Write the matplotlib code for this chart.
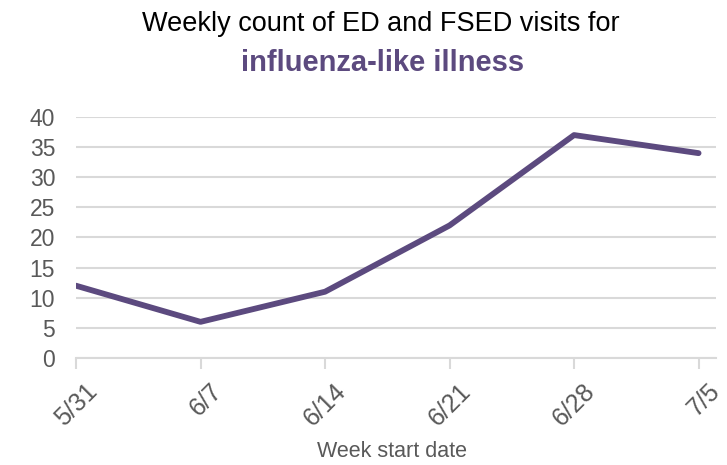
"""Weekly ED/FSED visit counts for influenza-like illness."""

import matplotlib

matplotlib.use("Agg")
import matplotlib.pyplot as plt
from matplotlib.transforms import ScaledTranslation

weeks = ["5/31", "6/7", "6/14", "6/21", "6/28", "7/5"]
visits = [12, 6, 11, 22, 37, 34]
y_ticks = [0, 5, 10, 15, 20, 25, 30, 35, 40]

purple = "#5c4a7f"
grey_text = "#595959"
grid_grey = "#d9d9d9"

plt.rcParams["font.family"] = ["Liberation Sans", "DejaVu Sans"]

fig = plt.figure(figsize=(7.27, 4.65), dpi=100)
ax = fig.add_axes([76 / 727, 1 - 358 / 465, (716 - 76) / 727, (358 - 117) / 465])

x = list(range(len(weeks)))
ax.plot(x, visits, color=purple, linewidth=4.2, solid_capstyle="round", solid_joinstyle="round", zorder=3)

ax.set_xlim(0, 5.14)
ax.set_ylim(0, 40)
ax.set_yticks(y_ticks)
ax.set_xticks(x)
ax.set_xticklabels(weeks, rotation=45, ha="right", rotation_mode="anchor")
ax.grid(axis="y", color=grid_grey, linewidth=1.5)
ax.set_axisbelow(True)

for side in ["top", "right", "left"]:
    ax.spines[side].set_visible(False)
ax.spines["bottom"].set_color(grid_grey)
ax.spines["bottom"].set_linewidth(1.5)

ax.tick_params(axis="y", length=0, pad=15, labelsize=16.5, labelcolor=grey_text)
ax.tick_params(axis="x", length=8, width=1.5, color=grid_grey, pad=7, labelsize=18, labelcolor=grey_text)

# nudge rotated date labels to the right like the original
shift = ScaledTranslation(9 / 100, 0, fig.dpi_scale_trans)
for label in ax.get_xticklabels():
    label.set_transform(label.get_transform() + shift)

fig.text(392 / 727, 1 - 457 / 465, "Week start date", ha="center", va="baseline", fontsize=15.5, color=grey_text)

fig.text(381 / 727, 1 - 31 / 465, "Weekly count of ED and FSED visits for", ha="center", va="baseline", fontsize=19.5, color="black")
fig.text(383 / 727, 1 - 71 / 465, "influenza-like illness", ha="center", va="baseline", fontsize=21, fontweight="bold", color=purple)

fig.savefig("out.png", dpi=100)
